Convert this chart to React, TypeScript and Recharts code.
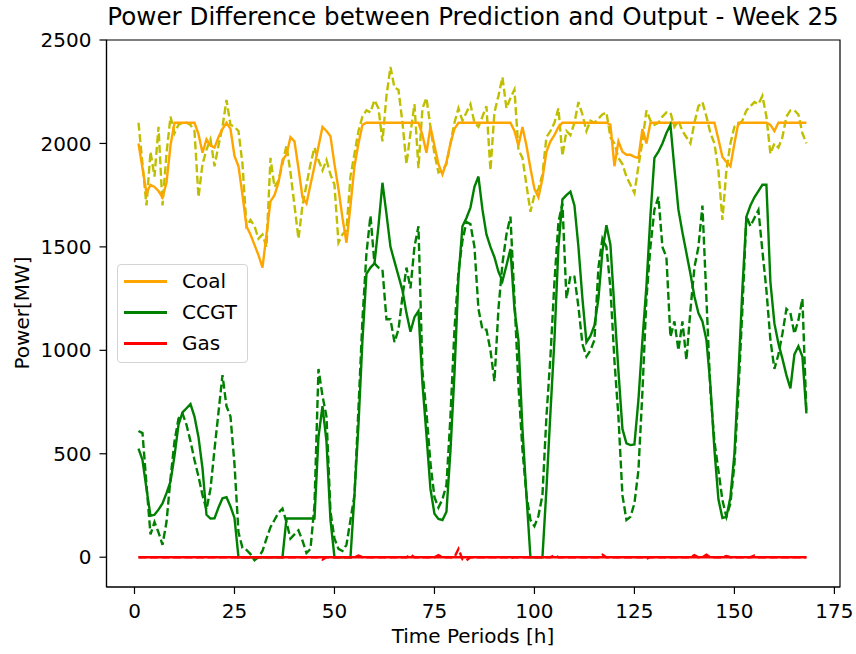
import {
  LineChart,
  Line,
  XAxis,
  YAxis,
  Legend,
  ReferenceArea,
} from "recharts";

// hour index 1..168 (one week)
const hours = Array.from({ length: 168 }, (_, i) => i + 1);

const xTicks = [0, 25, 50, 75, 100, 125, 150, 175];
const yTicks = [0, 500, 1000, 1500, 2000, 2500];
const legendOrder = ["Coal", "CCGT", "Gas"];

// Coal - prediction (solid) and output (dashed)
const coalPred = [
  2000, 1880, 1760, 1800, 1790, 1770, 1740, 1810, 1990, 2100, 2100, 2100,
  2100, 2100, 2100, 2045, 1955, 2020, 1990, 1980, 2030, 2070, 2100, 2070,
  1940, 1890, 1750, 1600, 1560, 1510, 1460, 1400, 1560, 1720, 1750, 1810,
  1920, 1945, 2030, 2010, 1880, 1740, 1710, 1800, 1890, 1985, 2080, 2060,
  2035, 1900, 1780, 1640, 1520, 1700, 1890, 2000, 2090, 2100, 2100, 2100,
  2100, 2100, 2100, 2100, 2100, 2100, 2100, 2100, 2100, 2100, 2100, 2040,
  1955, 2080, 1990, 1900, 1850, 1910, 2000, 2070, 2100, 2100, 2100, 2100,
  2100, 2100, 2100, 2100, 2100, 2100, 2100, 2100, 2100, 2100, 2060, 1990,
  2080, 1990, 1880, 1780, 1740, 1830, 1960, 2010, 2040, 2080, 2100, 2100,
  2100, 2100, 2100, 2100, 2100, 2100, 2100, 2100, 2100, 2100, 2090, 1890,
  2010, 1960, 1945, 1945, 1935, 1930, 2070, 2000, 2100, 2100, 2100, 2100,
  2100, 2100, 2100, 2100, 2100, 2100, 2100, 2100, 2100, 2100, 2100, 2100,
  2100, 2020, 1935, 1910, 1890, 2000, 2100, 2100, 2100, 2100, 2100, 2100,
  2100, 2100, 2090, 2060, 2100, 2100, 2100, 2100, 2100, 2100, 2100, 2100,
];
const coalOut = [
  2100, 1900, 1700, 1960, 1840, 2080, 1700, 1950, 2130, 2050, 2090, 2100,
  2100, 2090, 2060, 1740, 1900, 1970, 2020, 1890, 1990, 2080, 2210, 2090,
  2080, 2060, 1900, 1600, 1630, 1600, 1540, 1560, 1500, 1930, 1790, 1820,
  1900, 1990, 1860, 1700, 1540, 1700, 1800, 1900, 1980, 1920, 1870, 1920,
  1850, 1800, 1520, 1560, 1580, 1840, 1950, 2060, 2130, 2160, 2150, 2210,
  2170, 2010, 2230, 2370, 2270, 2260, 2100, 1900, 2050, 2190, 1880, 2170,
  2220, 2080, 1950, 1860, 1870, 1900, 2000, 2100, 2170, 2110, 2150, 2190,
  2100, 2080, 2130, 2180, 1870, 2150, 2230, 2320, 2170, 2220, 2260, 1970,
  1930, 1800, 1670, 1750, 1780, 1850, 2030, 2060, 2100, 2170, 1940, 2060,
  2040, 2100, 2200, 2140, 2060, 2110, 2100, 2120, 2140, 2150, 2030, 2000,
  1930, 1900, 1840, 1800, 1760, 1890, 2010, 2160, 2110, 2090, 2100, 2130,
  2150, 2150, 2080, 2110, 2060, 2030, 2000, 2100, 2180, 2200, 2130, 2050,
  2000, 1870, 1630, 1870, 2000, 2080, 2090, 2110, 2160, 2180, 2200, 2190,
  2230, 2130, 1950, 2000, 1980, 2030, 2130, 2160, 2160, 2140, 2050, 2000,
];

// CCGT - prediction (solid) and output (dashed)
const ccgtPred = [
  525, 470, 330, 200, 205, 230, 260, 310, 365, 490, 640, 700,
  720, 740, 680, 580, 430, 205, 187, 188, 240, 285, 290, 245,
  190, 0, 0, 0, 0, 0, 0, 0, 0, 0, 0, 0,
  0, 187, 187, 187, 187, 187, 187, 187, 187, 580, 730, 560,
  180, 0, 0, 0, 0, 0, 300, 640, 1050, 1370, 1400, 1420,
  1600, 1810, 1660, 1500, 1430, 1360, 1290, 1180, 1090, 1160, 1190, 840,
  590, 330, 210, 185, 180, 220, 515, 886, 1350, 1600, 1640, 1690,
  1790, 1840, 1680, 1560, 1500, 1450, 1380, 1335, 1410, 1490, 1200, 1050,
  620, 300, 0, 0, 0, 0, 330, 700, 1050, 1500, 1730, 1750,
  1767, 1700, 1500, 1250, 1040, 1070, 1120, 1250, 1480, 1605, 1510, 1200,
  900, 620, 550, 542, 545, 760, 1050, 1310, 1650, 1930, 1960, 2000,
  2050, 2090, 1880, 1680, 1570, 1470, 1370, 1260, 1180, 1140, 1050, 830,
  520, 280, 190, 195, 290, 500, 880, 1300, 1646, 1700, 1740, 1770,
  1800, 1800, 1330, 1130, 1033, 960, 880, 816, 980, 1020, 970, 695,
];
const ccgtOut = [
  610, 600, 350, 110, 170, 120, 60, 170, 380, 560, 670, 695,
  640, 560, 470, 390, 300, 230, 330, 520, 700, 880, 730, 680,
  450, 120, 45, 35, 15, -15, 0, 30, 90, 145, 180, 215,
  235, 170, 90, 110, 130, 80, 20, 40, 250, 910, 780, 680,
  220, 90, 40, 30, 60, 180, 300, 720, 1150, 1470, 1650, 1420,
  1400, 1390, 1150, 1150, 1040, 1100, 1259, 1400, 1300, 1500, 1600, 900,
  700, 453, 290, 240, 280, 350, 680, 1100, 1380, 1530, 1620, 1610,
  1500, 1200, 1100, 1100, 1000, 850, 1200, 1420, 1560, 1646, 1250, 830,
  520, 300, 180, 150, 200, 300, 680, 969, 1330, 1620, 1710, 1250,
  1360, 1356, 1210, 1030, 970, 1000, 1050, 1400, 1540, 1500, 1300, 950,
  680, 300, 180, 195, 260, 420, 800, 1250, 1500, 1680, 1742, 1500,
  1450, 1065, 1140, 1000, 1140, 953, 1194, 1400, 1500, 1700, 1250, 800,
  560, 420, 276, 195, 260, 450, 800, 1200, 1650, 1600, 1640, 1678,
  1480, 1291, 1050, 910, 980, 1080, 1200, 1180, 1080, 1146, 1250, 700,
];

// Gas - prediction (solid) and output (dashed)
const gasPred = [
  0, 0, 0, 0, 0, 0, 0, 0, 0, 0, 0, 0,
  0, 0, 0, 0, 0, 0, 0, 0, 0, 0, 0, 0,
  0, 0, 0, 0, 0, 0, 0, 0, 0, 0, 0, 0,
  0, 0, 0, 0, 0, 0, 0, 0, 0, 0, 0, 0,
  0, 0, 0, 0, 0, 0, 0, 0, 0, 0, 0, 0,
  0, 0, 0, 0, 0, 0, 0, 0, 0, 0, 0, 0,
  0, 0, 0, 0, 0, 0, 0, 0, 0, 0, 0, 0,
  0, 0, 0, 0, 0, 0, 0, 0, 0, 0, 0, 0,
  0, 0, 0, 0, 0, 0, 0, 0, 0, 0, 0, 0,
  0, 0, 0, 0, 0, 0, 0, 0, 0, 0, 0, 0,
  0, 0, 0, 0, 0, 0, 0, 0, 0, 0, 0, 0,
  0, 0, 0, 0, 0, 0, 0, 0, 0, 0, 0, 0,
  0, 0, 0, 0, 0, 0, 0, 0, 0, 0, 0, 0,
  0, 0, 0, 0, 0, 0, 0, 0, 0, 0, 0, 0,
];
const gasOut = [
  0, 0, 0, 0, 0, 0, 0, 0, 0, 0, 0, 0,
  0, 0, 0, 0, 0, 0, 0, 0, 0, 0, 0, 0,
  0, 0, 0, 0, 0, 0, 0, 0, 0, 0, 0, 0,
  0, 0, 0, 0, 0, 0, 0, 0, 0, 0, -12, 0,
  0, 0, 0, 0, 0, 0, 0, 8, 0, 0, 0, 0,
  0, 0, 0, 0, 0, 0, 0, 0, 12, 0, 0, 0,
  0, 0, 0, 10, 0, 0, 0, 0, 40, -10, -15, 0,
  0, 0, 0, 0, 0, 0, 0, 0, 0, -6, 0, 0,
  0, 0, 0, 0, 0, 0, 0, 0, 8, 0, 0, 0,
  0, 0, 0, 0, 0, 0, 0, 0, 12, 0, 0, 0,
  0, 0, 0, 0, 0, 0, 0, -8, 0, 0, 0, 0,
  0, 0, 0, 0, 0, 0, 0, 10, 0, 0, 12, 0,
  0, 0, 0, 6, 0, 0, 0, 0, 0, 0, 8, 0,
  0, 0, 0, 0, 0, 0, 0, 0, 0, 0, 0, 0,
];

const data = hours.map((h, i) => ({
  hour: h,
  coalPred: coalPred[i],
  coalOut: coalOut[i],
  ccgtPred: ccgtPred[i],
  ccgtOut: ccgtOut[i],
  gasPred: gasPred[i],
  gasOut: gasOut[i],
}));

const FONT = '"DejaVu Sans", sans-serif';

const LegendBox = ({ payload }: any) => {
  const items = legendOrder
    .map((name) => (payload || []).find((p: any) => p.value === name))
    .filter(Boolean);
  return (
    <div
      style={{
        position: "relative",
        width: 131,
        height: 99,
        boxSizing: "border-box",
        border: "1px solid #d4d4d4",
        borderRadius: 4,
        background: "rgba(255,255,255,0.8)",
        fontFamily: FONT,
        fontSize: 20,
        color: "#000",
      }}
    >
      {items.map((item: any, i: number) => (
        <div key={item.value} style={{ position: "absolute", left: 0, top: 16 + i * 31 - 12, height: 24, width: 131 }}>
          <div style={{ position: "absolute", left: 6, top: 11, width: 43, height: 2.5, background: item.color }} />
          <div style={{ position: "absolute", left: 64, top: 0, lineHeight: "24px" }}>{item.value}</div>
        </div>
      ))}
    </div>
  );
};

export default function App() {
  return (
    <div
      style={{
        position: "absolute",
        left: 0,
        top: 0,
        width: 856,
        height: 654,
        background: "#fff",
        fontFamily: FONT,
      }}
    >
      <div
        style={{
          position: "absolute",
          left: 106,
          width: 734,
          top: 5,
          textAlign: "center",
          fontSize: 24.6,
          lineHeight: 1,
          color: "#000",
          whiteSpace: "nowrap",
        }}
      >
        Power Difference between Prediction and Output - Week 25
      </div>
      <div
        style={{
          position: "absolute",
          left: 22 - 100,
          top: 313 - 12,
          width: 200,
          height: 24,
          lineHeight: "24px",
          textAlign: "center",
          fontSize: 20,
          color: "#000",
          transform: "rotate(-90deg)",
        }}
      >
        Power[MW]
      </div>
      <div
        style={{
          position: "absolute",
          left: 373,
          top: 636 - 12,
          width: 200,
          height: 24,
          lineHeight: "24px",
          textAlign: "center",
          fontSize: 20,
          color: "#000",
        }}
      >
        Time Periods [h]
      </div>
      <LineChart
        width={856}
        height={654}
        data={data}
        margin={{ top: 40, right: 16, bottom: 0, left: 0 }}
      >
        <XAxis
          dataKey="hour"
          type="number"
          domain={[-7, 176.4]}
          ticks={xTicks}
          allowDataOverflow
          height={67}
          tickSize={7}
          tickMargin={10}
          stroke="#000"
          strokeWidth={1.2}
          tick={{ fill: "#000", fontSize: 20, fontFamily: FONT }}
        />
        <YAxis
          type="number"
          domain={[-144, 2500]}
          ticks={yTicks}
          allowDataOverflow
          width={106.5}
          tickSize={7}
          tickMargin={8}
          stroke="#000"
          strokeWidth={1.2}
          tick={{ fill: "#000", fontSize: 20, fontFamily: FONT }}
        />
        <Line
          type="linear"
          dataKey="coalOut"
          name="Coal output"
          stroke="#bfbf00"
          strokeWidth={2.4}
          strokeDasharray="8 3.5"
          dot={false}
          legendType="none"
          isAnimationActive={false}
        />
        <Line
          type="linear"
          dataKey="coalPred"
          name="Coal"
          stroke="#ffa500"
          strokeWidth={2.4}
          dot={false}
          isAnimationActive={false}
        />
        <Line
          type="linear"
          dataKey="ccgtOut"
          name="CCGT output"
          stroke="#008000"
          strokeWidth={2.4}
          strokeDasharray="8 3.5"
          dot={false}
          legendType="none"
          isAnimationActive={false}
        />
        <Line
          type="linear"
          dataKey="ccgtPred"
          name="CCGT"
          stroke="#008000"
          strokeWidth={2.4}
          dot={false}
          isAnimationActive={false}
        />
        <Line
          type="linear"
          dataKey="gasOut"
          name="Gas output"
          stroke="#ff0000"
          strokeWidth={2.4}
          strokeDasharray="8 3.5"
          dot={false}
          legendType="none"
          isAnimationActive={false}
        />
        <Line
          type="linear"
          dataKey="gasPred"
          name="Gas"
          stroke="#ff0000"
          strokeWidth={2.4}
          dot={false}
          isAnimationActive={false}
        />
        <ReferenceArea
          x1={-7}
          x2={176.4}
          y1={-144}
          y2={2500}
          fill="none"
          stroke="#000"
          strokeWidth={1.2}
          ifOverflow="visible"
        />
        <Legend
          layout="vertical"
          align="center"
          verticalAlign="middle"
          content={<LegendBox />}
          wrapperStyle={{ position: "absolute", left: 117, top: 264, width: 131, height: 99 }}
        />
      </LineChart>
    </div>
  );
}
